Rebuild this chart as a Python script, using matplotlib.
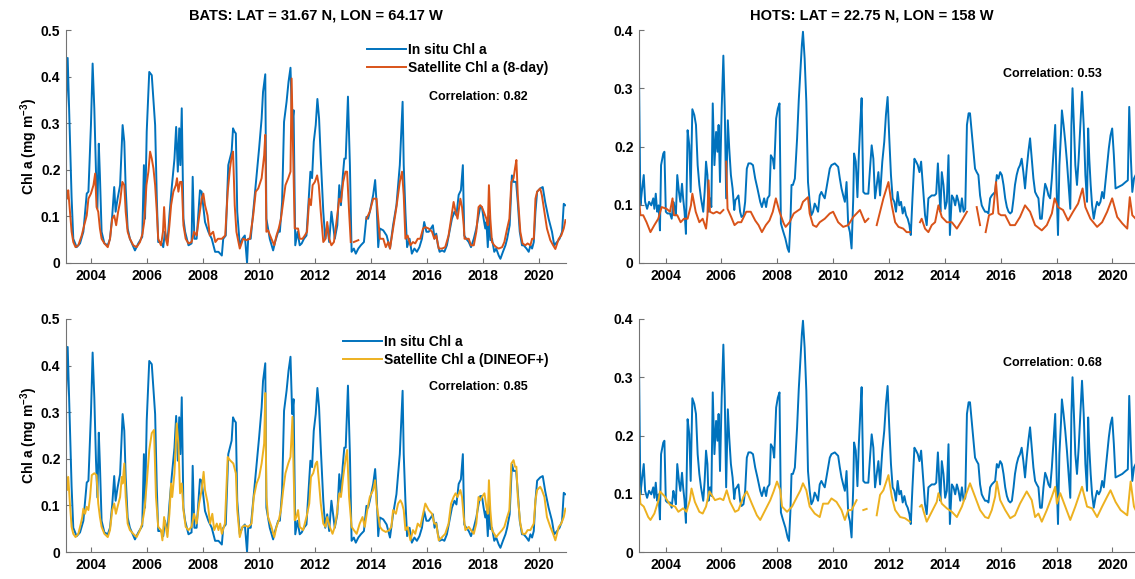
import numpy as np
import matplotlib
matplotlib.use('Agg')
import matplotlib.pyplot as plt
from matplotlib.ticker import FuncFormatter

plt.rcParams['font.family'] = ['Liberation Sans', 'DejaVu Sans']
plt.rcParams['font.weight'] = 'bold'
plt.rcParams['mathtext.fontset'] = 'custom'
plt.rcParams['mathtext.rm'] = 'Liberation Sans:bold'
plt.rcParams['mathtext.it'] = 'Liberation Sans:bold'
plt.rcParams['mathtext.bf'] = 'Liberation Sans:bold'

# (decimal year, Chl a in mg m-3); None marks a gap in the record
bats_insitu = [
    (2003.12, 0.33), (2003.18, 0.44), (2003.26, 0.27), (2003.32, 0.14), (2003.38, 0.052), (2003.50, 0.034),
    (2003.62, 0.042), (2003.74, 0.067), (2003.86, 0.149), (2003.92, 0.153), (2004.01, 0.296), (2004.07, 0.428),
    (2004.13, 0.332), (2004.19, 0.196), (2004.24, 0.117), (2004.29, 0.256), (2004.33, 0.188), (2004.39, 0.067),
    (2004.49, 0.042), (2004.61, 0.038), (2004.69, 0.052), (2004.77, 0.102), (2004.84, 0.163), (2004.89, 0.11),
    (2004.96, 0.138), (2005.05, 0.167), (2005.14, 0.296), (2005.20, 0.26), (2005.25, 0.16), (2005.32, 0.074),
    (2005.40, 0.052), (2005.58, 0.027), (2005.70, 0.042), (2005.84, 0.056), (2005.90, 0.21), (2005.94, 0.095),
    (2006.00, 0.282), (2006.09, 0.41), (2006.18, 0.403), (2006.30, 0.296), (2006.36, 0.138), (2006.41, 0.045),
    (2006.51, 0.045), (2006.59, 0.034), (2006.65, 0.067), (2006.74, 0.045), (2006.81, 0.102), (2006.89, 0.16),
    (2006.99, 0.224), (2007.05, 0.292), (2007.11, 0.196), (2007.16, 0.289), (2007.20, 0.21), (2007.25, 0.332),
    (2007.31, 0.095), (2007.37, 0.067), (2007.49, 0.038), (2007.60, 0.042), (2007.64, 0.185), (2007.70, 0.052),
    (2007.78, 0.052), (2007.90, 0.156), (2007.96, 0.153), (2008.08, 0.088), (2008.20, 0.067), (2008.32, 0.052),
    (2008.44, 0.024), (2008.56, 0.024), (2008.68, 0.016), (2008.73, 0.052), (2008.82, 0.059), (2008.91, 0.21),
    (2009.03, 0.239), (2009.08, 0.289), (2009.13, 0.282), (2009.18, 0.278), (2009.23, 0.11), (2009.32, 0.038),
    (2009.41, 0.052), (2009.50, 0.059), (2009.58, 0.0), (2009.62, 0.052), (2009.71, 0.052), (2009.82, 0.124),
    (2009.92, 0.188), (2010.01, 0.246), (2010.10, 0.31), (2010.15, 0.367), (2010.23, 0.405), (2010.27, 0.095),
    (2010.39, 0.052), (2010.51, 0.027), (2010.58, 0.045), (2010.69, 0.067), (2010.75, 0.067), (2010.83, 0.13),
    (2010.90, 0.303), (2010.99, 0.346), (2011.06, 0.389), (2011.13, 0.419), (2011.19, 0.296), (2011.24, 0.328),
    (2011.30, 0.038), (2011.38, 0.067), (2011.46, 0.038), (2011.53, 0.042), (2011.61, 0.052), (2011.70, 0.059),
    (2011.78, 0.138), (2011.84, 0.196), (2011.90, 0.182), (2011.96, 0.26), (2012.03, 0.296), (2012.09, 0.352),
    (2012.15, 0.31), (2012.21, 0.224), (2012.30, 0.11), (2012.37, 0.052), (2012.44, 0.081), (2012.51, 0.045),
    (2012.59, 0.11), (2012.65, 0.081), (2012.71, 0.052), (2012.80, 0.081), (2012.87, 0.167), (2012.93, 0.124),
    (2012.99, 0.182), (2013.05, 0.224), (2013.10, 0.224), (2013.18, 0.357), (2013.25, 0.21), (2013.31, 0.024),
    (2013.39, 0.031), (2013.46, 0.02), (2013.55, 0.031), (2013.64, 0.038), (2013.75, 0.045), (2013.84, 0.099),
    (2013.90, 0.095), (2013.96, 0.11), (2014.08, 0.146), (2014.15, 0.178), (2014.20, 0.13), (2014.26, 0.034),
    (2014.32, 0.074), (2014.44, 0.07), (2014.56, 0.059), (2014.68, 0.031), (2014.79, 0.081), (2014.91, 0.124),
    (2015.03, 0.21), (2015.13, 0.346), (2015.17, 0.21), (2015.23, 0.11), (2015.29, 0.034), (2015.38, 0.052),
    (2015.46, 0.02), (2015.55, 0.031), (2015.64, 0.024), (2015.73, 0.034), (2015.82, 0.052), (2015.90, 0.088),
    (2015.98, 0.067), (2016.06, 0.067), (2016.14, 0.074), (2016.21, 0.081), (2016.27, 0.052), (2016.33, 0.063),
    (2016.39, 0.038), (2016.45, 0.024), (2016.54, 0.027), (2016.62, 0.024), (2016.71, 0.038), (2016.80, 0.067),
    (2016.89, 0.095), (2016.98, 0.11), (2017.05, 0.102), (2017.13, 0.146), (2017.21, 0.156), (2017.28, 0.21),
    (2017.33, 0.059), (2017.40, 0.052), (2017.49, 0.045), (2017.57, 0.034), (2017.67, 0.052), (2017.76, 0.074),
    (2017.84, 0.102), (2017.90, 0.12), (2017.96, 0.12), (2018.02, 0.095), (2018.08, 0.074), (2018.12, 0.088),
    (2018.17, 0.034), (2018.21, 0.102), (2018.26, 0.049), (2018.32, 0.052), (2018.40, 0.024), (2018.47, 0.031),
    (2018.56, 0.016), (2018.62, 0.009), (2018.71, 0.024), (2018.80, 0.038), (2018.86, 0.052), (2018.95, 0.081),
    (2019.03, 0.188), (2019.09, 0.174), (2019.18, 0.174), (2019.24, 0.13), (2019.31, 0.067), (2019.39, 0.038),
    (2019.45, 0.038), (2019.55, 0.031), (2019.63, 0.024), (2019.69, 0.038), (2019.75, 0.031), (2019.81, 0.045),
    (2019.87, 0.11), (2019.93, 0.153), (2020.04, 0.16), (2020.13, 0.163), (2020.22, 0.13), (2020.34, 0.095),
    (2020.46, 0.067), (2020.54, 0.038), (2020.64, 0.045), (2020.73, 0.052), (2020.82, 0.067), (2020.88, 0.127),
    (2020.93, 0.124),
]

bats_sat8 = [
    (2003.12, 0.16), (2003.16, 0.138), (2003.20, 0.156), (2003.26, 0.11), (2003.32, 0.067), (2003.38, 0.045),
    (2003.46, 0.034), (2003.56, 0.038), (2003.68, 0.059), (2003.77, 0.081), (2003.86, 0.102), (2003.92, 0.138),
    (2004.01, 0.149), (2004.10, 0.167), (2004.16, 0.192), (2004.21, 0.12), (2004.27, 0.11), (2004.33, 0.074),
    (2004.39, 0.052), (2004.49, 0.042), (2004.61, 0.034), (2004.69, 0.052), (2004.77, 0.095), (2004.84, 0.102),
    (2004.91, 0.081), (2004.98, 0.11), (2005.05, 0.131), (2005.13, 0.174), (2005.20, 0.167), (2005.25, 0.11),
    (2005.32, 0.067), (2005.40, 0.052), (2005.52, 0.038), (2005.64, 0.034), (2005.76, 0.045), (2005.85, 0.063),
    (2005.91, 0.088), (2005.99, 0.167), (2006.06, 0.196), (2006.12, 0.239), (2006.18, 0.224), (2006.24, 0.203),
    (2006.30, 0.167), (2006.36, 0.11), (2006.41, 0.052), (2006.51, 0.038), (2006.58, 0.067), (2006.62, 0.12),
    (2006.68, 0.052), (2006.74, 0.038), (2006.81, 0.081), (2006.87, 0.124), (2006.95, 0.153), (2007.04, 0.167),
    (2007.08, 0.182), (2007.13, 0.153), (2007.19, 0.174), (2007.25, 0.174), (2007.31, 0.081), (2007.39, 0.052),
    (2007.49, 0.042), (2007.60, 0.045), (2007.69, 0.067), (2007.78, 0.059), (2007.86, 0.095), (2007.96, 0.138),
    (2008.02, 0.149), (2008.08, 0.124), (2008.17, 0.102), (2008.25, 0.059), (2008.37, 0.067), (2008.45, 0.045),
    (2008.54, 0.052), (2008.68, 0.052), (2008.80, 0.059), (2008.89, 0.153), (2008.97, 0.203), (2009.02, 0.224),
    (2009.08, 0.239), (2009.14, 0.124), (2009.20, 0.067), (2009.32, 0.031), (2009.44, 0.052), (2009.56, 0.049),
    (2009.68, 0.052), (2009.80, 0.102), (2009.89, 0.153), (2009.98, 0.16), (2010.10, 0.182), (2010.19, 0.231),
    (2010.23, 0.275), (2010.27, 0.067), (2010.33, 0.07), (2010.45, 0.052), (2010.55, 0.038), (2010.63, 0.059),
    (2010.71, 0.074), (2010.79, 0.095), (2010.87, 0.131), (2010.95, 0.167), (2011.05, 0.182), (2011.13, 0.196),
    (2011.17, 0.396), (2011.23, 0.224), (2011.28, 0.074), (2011.40, 0.074), (2011.46, 0.052), (2011.56, 0.052),
    (2011.64, 0.059), (2011.72, 0.067), (2011.80, 0.138), (2011.86, 0.124), (2011.92, 0.167), (2012.00, 0.174),
    (2012.08, 0.188), (2012.14, 0.167), (2012.21, 0.11), (2012.30, 0.045), (2012.38, 0.052), (2012.44, 0.088),
    (2012.51, 0.052), (2012.59, 0.038), (2012.68, 0.045), (2012.77, 0.088), (2012.87, 0.138), (2012.93, 0.131),
    (2013.01, 0.174), (2013.09, 0.196), (2013.15, 0.196), (2013.22, 0.11), (2013.28, 0.045), (2013.33, None),
    (2013.39, 0.045), (2013.55, 0.049), (2013.70, None), (2013.84, 0.095), (2013.96, 0.11), (2014.08, 0.138),
    (2014.20, 0.138), (2014.32, 0.052), (2014.44, 0.052), (2014.53, 0.034), (2014.62, 0.045), (2014.68, 0.031),
    (2014.79, 0.074), (2014.91, 0.12), (2015.03, 0.174), (2015.11, 0.196), (2015.17, 0.145), (2015.23, 0.052),
    (2015.31, 0.059), (2015.41, 0.038), (2015.50, 0.045), (2015.58, 0.042), (2015.67, 0.052), (2015.76, 0.052),
    (2015.86, 0.074), (2015.94, 0.077), (2016.06, 0.074), (2016.18, 0.067), (2016.26, 0.052), (2016.33, 0.059),
    (2016.42, 0.031), (2016.54, 0.031), (2016.65, 0.034), (2016.77, 0.059), (2016.86, 0.095), (2016.95, 0.131),
    (2017.02, 0.11), (2017.09, 0.095), (2017.19, 0.138), (2017.25, 0.12), (2017.31, 0.081), (2017.34, 0.052),
    (2017.49, 0.052), (2017.57, 0.038), (2017.67, 0.038), (2017.76, 0.067), (2017.84, 0.12), (2017.90, 0.124),
    (2017.96, 0.12), (2018.05, 0.106), (2018.12, 0.095), (2018.17, 0.081), (2018.21, 0.167), (2018.26, 0.095),
    (2018.32, 0.045), (2018.40, 0.038), (2018.47, 0.034), (2018.56, 0.031), (2018.68, 0.034), (2018.76, 0.045),
    (2018.86, 0.074), (2018.94, 0.095), (2019.01, 0.174), (2019.09, 0.182), (2019.14, 0.203), (2019.19, 0.221),
    (2019.24, 0.145), (2019.33, 0.067), (2019.41, 0.042), (2019.51, 0.038), (2019.59, 0.042), (2019.69, 0.038),
    (2019.75, 0.052), (2019.81, 0.052), (2019.87, 0.138), (2019.93, 0.153), (2020.04, 0.16), (2020.10, 0.145),
    (2020.19, 0.11), (2020.28, 0.074), (2020.40, 0.049), (2020.50, 0.038), (2020.58, 0.03), (2020.70, 0.052),
    (2020.79, 0.059), (2020.88, 0.074), (2020.94, 0.092),
]

bats_dineof = [
    (2003.12, 0.169), (2003.16, 0.133), (2003.20, 0.161), (2003.26, 0.104), (2003.32, 0.054), (2003.38, 0.039),
    (2003.46, 0.032), (2003.56, 0.039), (2003.65, 0.061), (2003.70, 0.075), (2003.74, 0.093), (2003.80, 0.082),
    (2003.86, 0.097), (2003.92, 0.09), (2003.98, 0.118), (2004.04, 0.165), (2004.13, 0.169), (2004.21, 0.165),
    (2004.27, 0.104), (2004.33, 0.075), (2004.39, 0.054), (2004.49, 0.039), (2004.61, 0.032), (2004.69, 0.047),
    (2004.77, 0.09), (2004.84, 0.104), (2004.90, 0.082), (2004.96, 0.097), (2005.05, 0.118), (2005.11, 0.161),
    (2005.14, 0.147), (2005.20, 0.19), (2005.25, 0.118), (2005.32, 0.061), (2005.40, 0.047), (2005.52, 0.039),
    (2005.64, 0.032), (2005.76, 0.047), (2005.84, 0.061), (2005.92, 0.09), (2006.00, 0.147), (2006.09, 0.219),
    (2006.18, 0.255), (2006.26, 0.262), (2006.33, 0.118), (2006.41, 0.054), (2006.51, 0.047), (2006.56, 0.025),
    (2006.62, 0.075), (2006.68, 0.054), (2006.74, 0.032), (2006.81, 0.082), (2006.87, 0.147), (2006.91, 0.118),
    (2006.99, 0.169), (2007.07, 0.276), (2007.13, 0.233), (2007.19, 0.126), (2007.25, 0.147), (2007.31, 0.09),
    (2007.39, 0.054), (2007.49, 0.047), (2007.60, 0.054), (2007.69, 0.082), (2007.78, 0.061), (2007.87, 0.104),
    (2007.96, 0.133), (2008.03, 0.172), (2008.08, 0.133), (2008.18, 0.104), (2008.26, 0.061), (2008.34, 0.082),
    (2008.41, 0.047), (2008.50, 0.061), (2008.56, 0.047), (2008.62, 0.061), (2008.68, 0.039), (2008.79, 0.061),
    (2008.89, 0.204), (2008.97, 0.197), (2009.09, 0.19), (2009.18, 0.169), (2009.23, 0.09), (2009.32, 0.032),
    (2009.41, 0.054), (2009.50, 0.057), (2009.62, 0.054), (2009.74, 0.061), (2009.82, 0.118), (2009.92, 0.147),
    (2010.01, 0.161), (2010.10, 0.19), (2010.19, 0.233), (2010.23, 0.341), (2010.27, 0.118), (2010.33, 0.075),
    (2010.45, 0.054), (2010.55, 0.032), (2010.63, 0.054), (2010.71, 0.068), (2010.79, 0.09), (2010.87, 0.133),
    (2010.95, 0.169), (2011.05, 0.19), (2011.13, 0.204), (2011.20, 0.29), (2011.28, 0.068), (2011.34, 0.075),
    (2011.40, 0.09), (2011.46, 0.054), (2011.58, 0.047), (2011.70, 0.075), (2011.80, 0.104), (2011.86, 0.161),
    (2011.94, 0.169), (2012.03, 0.19), (2012.08, 0.194), (2012.15, 0.147), (2012.21, 0.104), (2012.30, 0.061),
    (2012.38, 0.054), (2012.44, 0.075), (2012.53, 0.054), (2012.63, 0.039), (2012.71, 0.054), (2012.77, 0.075),
    (2012.87, 0.126), (2012.93, 0.118), (2013.01, 0.161), (2013.09, 0.197), (2013.15, 0.219), (2013.22, 0.118),
    (2013.31, 0.054), (2013.39, 0.047), (2013.49, 0.039), (2013.60, 0.061), (2013.70, 0.075), (2013.78, 0.054),
    (2013.87, 0.09), (2013.96, 0.118), (2014.08, 0.133), (2014.15, 0.154), (2014.20, 0.104), (2014.32, 0.054),
    (2014.41, 0.047), (2014.53, 0.043), (2014.65, 0.047), (2014.73, 0.054), (2014.79, 0.09), (2014.89, 0.082),
    (2014.97, 0.104), (2015.05, 0.111), (2015.11, 0.104), (2015.17, 0.09), (2015.23, 0.047), (2015.31, 0.054),
    (2015.41, 0.025), (2015.50, 0.047), (2015.58, 0.039), (2015.67, 0.061), (2015.76, 0.054), (2015.86, 0.082),
    (2015.94, 0.104), (2016.06, 0.09), (2016.18, 0.082), (2016.26, 0.061), (2016.33, 0.061), (2016.42, 0.025),
    (2016.54, 0.032), (2016.65, 0.039), (2016.77, 0.061), (2016.86, 0.104), (2016.95, 0.118), (2017.02, 0.126),
    (2017.09, 0.118), (2017.19, 0.133), (2017.25, 0.118), (2017.31, 0.075), (2017.37, 0.047), (2017.49, 0.054),
    (2017.57, 0.047), (2017.67, 0.039), (2017.76, 0.061), (2017.84, 0.118), (2017.90, 0.111), (2017.96, 0.118),
    (2018.05, 0.126), (2018.12, 0.097), (2018.17, 0.082), (2018.21, 0.154), (2018.26, 0.09), (2018.32, 0.047),
    (2018.40, 0.039), (2018.47, 0.032), (2018.56, 0.039), (2018.68, 0.047), (2018.76, 0.054), (2018.86, 0.075),
    (2018.94, 0.09), (2019.01, 0.19), (2019.09, 0.197), (2019.14, 0.183), (2019.19, 0.183), (2019.24, 0.118),
    (2019.33, 0.061), (2019.41, 0.039), (2019.51, 0.039), (2019.59, 0.047), (2019.69, 0.047), (2019.75, 0.054),
    (2019.81, 0.061), (2019.87, 0.111), (2019.93, 0.133), (2020.04, 0.14), (2020.10, 0.133), (2020.19, 0.118),
    (2020.28, 0.075), (2020.40, 0.054), (2020.50, 0.039), (2020.58, 0.025), (2020.70, 0.054), (2020.79, 0.061),
    (2020.88, 0.075), (2020.94, 0.093),
]

hots_insitu = [
    (2003.05, 0.323), (2003.10, 0.099), (2003.15, 0.122), (2003.22, 0.151), (2003.27, 0.105), (2003.34, 0.093),
    (2003.41, 0.105), (2003.49, 0.099), (2003.56, 0.111), (2003.60, 0.093), (2003.65, 0.119), (2003.70, 0.088),
    (2003.75, 0.099), (2003.80, 0.056), (2003.84, 0.168), (2003.92, 0.188), (2003.96, 0.191), (2004.01, 0.088),
    (2004.07, 0.085), (2004.16, 0.085), (2004.22, 0.076), (2004.28, 0.105), (2004.32, 0.096), (2004.37, 0.082),
    (2004.42, 0.151), (2004.48, 0.122), (2004.53, 0.105), (2004.59, 0.136), (2004.63, 0.111), (2004.68, 0.088),
    (2004.73, 0.05), (2004.79, 0.228), (2004.85, 0.202), (2004.90, 0.122), (2004.96, 0.264), (2005.03, 0.254),
    (2005.09, 0.237), (2005.15, 0.168), (2005.21, 0.134), (2005.27, 0.111), (2005.35, 0.088), (2005.40, 0.122),
    (2005.45, 0.174), (2005.50, 0.151), (2005.54, 0.088), (2005.59, 0.111), (2005.64, 0.096), (2005.69, 0.274),
    (2005.75, 0.168), (2005.81, 0.225), (2005.86, 0.191), (2005.90, 0.237), (2005.95, 0.139), (2006.01, 0.265),
    (2006.07, 0.356), (2006.12, 0.265), (2006.17, 0.111), (2006.23, 0.245), (2006.28, 0.197), (2006.34, 0.151),
    (2006.40, 0.128), (2006.46, 0.091), (2006.50, 0.108), (2006.55, 0.111), (2006.61, 0.116), (2006.67, 0.088),
    (2006.72, 0.079), (2006.79, 0.082), (2006.85, 0.105), (2006.91, 0.162), (2006.97, 0.171), (2007.05, 0.171),
    (2007.13, 0.168), (2007.21, 0.145), (2007.29, 0.128), (2007.39, 0.105), (2007.45, 0.096), (2007.53, 0.111),
    (2007.60, 0.096), (2007.65, 0.111), (2007.72, 0.116), (2007.77, 0.185), (2007.84, 0.179), (2007.89, 0.162),
    (2007.96, 0.248), (2008.02, 0.265), (2008.08, 0.274), (2008.13, 0.068), (2008.20, 0.056), (2008.29, 0.042),
    (2008.37, 0.025), (2008.42, 0.019), (2008.47, 0.07), (2008.51, 0.134), (2008.56, 0.134), (2008.63, 0.145),
    (2008.71, 0.214), (2008.77, 0.28), (2008.83, 0.33), (2008.88, 0.374), (2008.92, 0.397), (2008.98, 0.351),
    (2009.04, 0.277), (2009.10, 0.139), (2009.16, 0.105), (2009.22, 0.082), (2009.28, 0.088), (2009.34, 0.102),
    (2009.40, 0.096), (2009.46, 0.088), (2009.52, 0.116), (2009.58, 0.122), (2009.64, 0.116), (2009.70, 0.111),
    (2009.76, 0.128), (2009.82, 0.145), (2009.88, 0.162), (2009.94, 0.168), (2010.06, 0.171), (2010.18, 0.165),
    (2010.24, 0.145), (2010.30, 0.128), (2010.36, 0.116), (2010.42, 0.105), (2010.48, 0.139), (2010.54, 0.065),
    (2010.60, 0.053), (2010.66, 0.025), (2010.72, 0.111), (2010.75, 0.188), (2010.81, 0.174), (2010.87, 0.113),
    (2010.92, 0.185), (2010.97, 0.237), (2011.02, 0.283), (2011.08, 0.122), (2011.14, 0.119), (2011.20, 0.119),
    (2011.26, 0.119), (2011.32, 0.162), (2011.38, 0.202), (2011.44, 0.179), (2011.50, 0.111), (2011.56, 0.134),
    (2011.62, 0.156), (2011.68, 0.116), (2011.76, 0.174), (2011.83, 0.208), (2011.89, 0.254), (2011.95, 0.285),
    (2012.01, 0.214), (2012.07, 0.151), (2012.13, 0.111), (2012.19, 0.105), (2012.25, 0.088), (2012.31, 0.122),
    (2012.37, 0.099), (2012.43, 0.105), (2012.49, 0.085), (2012.55, 0.096), (2012.61, 0.082), (2012.67, 0.076),
    (2012.73, 0.065), (2012.78, 0.048), (2012.84, 0.111), (2012.91, 0.179), (2012.97, 0.174), (2013.03, 0.168),
    (2013.09, 0.156), (2013.15, 0.174), (2013.21, 0.134), (2013.29, 0.082), (2013.35, 0.065), (2013.41, 0.111),
    (2013.53, 0.116), (2013.63, 0.116), (2013.69, 0.119), (2013.75, 0.171), (2013.80, 0.122), (2013.84, 0.088),
    (2013.89, 0.156), (2013.95, 0.134), (2014.01, 0.093), (2014.07, 0.105), (2014.13, 0.185), (2014.18, 0.048),
    (2014.25, 0.116), (2014.31, 0.111), (2014.37, 0.099), (2014.43, 0.116), (2014.49, 0.105), (2014.55, 0.088),
    (2014.61, 0.111), (2014.67, 0.088), (2014.73, 0.093), (2014.79, 0.237), (2014.85, 0.257), (2014.90, 0.257),
    (2014.96, 0.225), (2015.02, 0.191), (2015.08, 0.162), (2015.14, 0.156), (2015.20, 0.151), (2015.26, 0.116),
    (2015.32, 0.099), (2015.38, 0.093), (2015.44, 0.088), (2015.50, 0.088), (2015.56, 0.085), (2015.62, 0.111),
    (2015.68, 0.116), (2015.74, 0.119), (2015.80, 0.122), (2015.86, 0.151), (2015.92, 0.145), (2015.98, 0.156),
    (2016.04, 0.151), (2016.10, 0.134), (2016.16, 0.111), (2016.22, 0.096), (2016.28, 0.088), (2016.34, 0.085),
    (2016.40, 0.088), (2016.46, 0.111), (2016.51, 0.134), (2016.57, 0.151), (2016.63, 0.162), (2016.69, 0.168),
    (2016.75, 0.179), (2016.81, 0.156), (2016.87, 0.128), (2016.93, 0.162), (2016.99, 0.191), (2017.05, 0.214),
    (2017.11, 0.179), (2017.17, 0.145), (2017.23, 0.122), (2017.29, 0.116), (2017.35, 0.111), (2017.41, 0.076),
    (2017.47, 0.076), (2017.53, 0.111), (2017.59, 0.136), (2017.65, 0.128), (2017.71, 0.116), (2017.77, 0.111),
    (2017.83, 0.145), (2017.89, 0.191), (2017.95, 0.237), (2018.01, 0.111), (2018.05, 0.048), (2018.10, 0.168),
    (2018.16, 0.225), (2018.19, 0.262), (2018.25, 0.237), (2018.31, 0.208), (2018.37, 0.174), (2018.43, 0.134),
    (2018.49, 0.093), (2018.53, 0.237), (2018.57, 0.30), (2018.62, 0.237), (2018.67, 0.168), (2018.73, 0.134),
    (2018.79, 0.179), (2018.85, 0.237), (2018.91, 0.294), (2018.97, 0.237), (2019.03, 0.151), (2019.09, 0.105),
    (2019.13, 0.231), (2019.17, 0.179), (2019.22, 0.134), (2019.27, 0.099), (2019.33, 0.076), (2019.39, 0.093),
    (2019.45, 0.105), (2019.51, 0.099), (2019.57, 0.105), (2019.63, 0.122), (2019.69, 0.111), (2019.75, 0.139),
    (2019.81, 0.168), (2019.87, 0.197), (2019.93, 0.219), (2019.99, 0.231), (2020.05, 0.185), (2020.11, 0.128),
    (2020.23, 0.131), (2020.35, 0.134), (2020.47, 0.139), (2020.55, 0.142), (2020.60, 0.268), (2020.66, 0.179),
    (2020.71, 0.122), (2020.77, 0.145), (2020.83, 0.151),
]

hots_sat8 = [
    (2003.05, 0.111), (2003.10, 0.082), (2003.20, 0.082), (2003.32, 0.07), (2003.46, 0.053), (2003.60, 0.065),
    (2003.74, 0.076), (2003.86, 0.096), (2004.04, 0.093), (2004.16, 0.088), (2004.25, 0.111), (2004.30, 0.082),
    (2004.42, 0.082), (2004.54, 0.07), (2004.66, 0.076), (2004.79, 0.076), (2004.91, 0.099), (2004.96, 0.119),
    (2005.08, 0.088), (2005.21, 0.07), (2005.33, 0.076), (2005.45, 0.059), (2005.50, 0.082), (2005.54, 0.142),
    (2005.59, 0.088), (2005.71, 0.085), (2005.83, 0.088), (2005.95, 0.085), (2006.07, 0.091), (2006.12, None),
    (2006.17, 0.174), (2006.22, 0.093), (2006.35, 0.079), (2006.47, 0.065), (2006.59, 0.07), (2006.71, 0.07),
    (2006.89, 0.088), (2007.05, 0.088), (2007.21, 0.073), (2007.33, 0.065), (2007.45, 0.053), (2007.59, 0.065),
    (2007.72, 0.073), (2007.84, 0.088), (2007.95, 0.111), (2008.08, 0.088), (2008.23, 0.068), (2008.30, 0.062),
    (2008.44, 0.07), (2008.59, 0.085), (2008.83, 0.093), (2008.92, 0.105), (2009.10, 0.113), (2009.16, 0.085),
    (2009.28, 0.065), (2009.40, 0.062), (2009.52, 0.07), (2009.70, 0.076), (2009.88, 0.085), (2010.00, 0.088),
    (2010.18, 0.07), (2010.36, 0.062), (2010.54, 0.065), (2010.72, 0.079), (2010.96, 0.091), (2011.14, 0.07),
    (2011.26, 0.076), (2011.40, None), (2011.56, 0.065), (2011.68, 0.088), (2011.80, 0.111), (2011.98, 0.139),
    (2012.10, 0.099), (2012.22, 0.07), (2012.34, 0.062), (2012.51, 0.059), (2012.63, 0.053), (2012.75, 0.053),
    (2012.95, None), (2013.11, 0.07), (2013.17, 0.076), (2013.29, 0.059), (2013.41, 0.053), (2013.53, 0.065),
    (2013.65, 0.07), (2013.77, 0.099), (2013.89, 0.079), (2014.07, 0.07), (2014.25, 0.07), (2014.43, 0.059),
    (2014.61, 0.073), (2014.79, 0.088), (2014.95, None), (2015.14, 0.096), (2015.26, 0.065), (2015.36, None),
    (2015.46, 0.053), (2015.58, 0.082), (2015.72, 0.085), (2015.83, 0.139), (2015.92, 0.085), (2016.01, 0.082),
    (2016.16, 0.082), (2016.34, 0.065), (2016.51, 0.065), (2016.69, 0.079), (2016.87, 0.099), (2017.05, 0.088),
    (2017.23, 0.065), (2017.47, 0.056), (2017.65, 0.065), (2017.83, 0.085), (2017.93, 0.111), (2018.05, 0.096),
    (2018.23, 0.091), (2018.41, 0.073), (2018.59, 0.088), (2018.77, 0.102), (2018.93, 0.128), (2019.03, 0.096),
    (2019.21, 0.076), (2019.45, 0.062), (2019.63, 0.07), (2019.81, 0.088), (2019.99, 0.111), (2020.17, 0.079),
    (2020.35, 0.068), (2020.53, 0.059), (2020.62, 0.113), (2020.71, 0.082), (2020.83, 0.076),
]

hots_dineof = [
    (2003.05, 0.118), (2003.10, 0.083), (2003.22, 0.078), (2003.38, 0.06), (2003.46, 0.055), (2003.60, 0.066),
    (2003.75, 0.089), (2003.80, 0.104), (2003.98, 0.095), (2004.16, 0.081), (2004.34, 0.078), (2004.46, 0.069),
    (2004.63, 0.075), (2004.75, 0.069), (2004.87, 0.089), (2004.93, 0.109), (2005.05, 0.086), (2005.21, 0.069),
    (2005.33, 0.066), (2005.45, 0.078), (2005.57, 0.104), (2005.77, 0.089), (2005.95, 0.092), (2006.07, 0.089),
    (2006.19, 0.106), (2006.31, 0.086), (2006.49, 0.069), (2006.61, 0.072), (2006.79, 0.095), (2006.91, 0.104),
    (2007.09, 0.083), (2007.27, 0.063), (2007.39, 0.055), (2007.57, 0.072), (2007.75, 0.089), (2007.87, 0.104),
    (2007.99, 0.121), (2008.11, 0.106), (2008.17, 0.078), (2008.35, 0.069), (2008.53, 0.078), (2008.71, 0.095),
    (2008.83, 0.106), (2008.92, 0.118), (2009.04, 0.106), (2009.16, 0.078), (2009.34, 0.066), (2009.52, 0.06),
    (2009.64, 0.083), (2009.82, 0.083), (2009.94, 0.092), (2010.12, 0.086), (2010.30, 0.072), (2010.42, 0.055),
    (2010.54, 0.072), (2010.66, 0.072), (2010.84, 0.089), (2010.96, None), (2011.08, 0.072), (2011.20, 0.074),
    (2011.38, None), (2011.56, 0.063), (2011.68, 0.098), (2011.80, 0.106), (2011.98, 0.132), (2012.10, 0.095),
    (2012.22, 0.072), (2012.40, 0.06), (2012.57, 0.058), (2012.75, 0.052), (2012.95, None), (2013.11, 0.078),
    (2013.17, 0.081), (2013.35, 0.052), (2013.53, 0.069), (2013.71, 0.086), (2013.77, 0.101), (2013.89, 0.083),
    (2014.07, 0.075), (2014.25, 0.069), (2014.43, 0.06), (2014.61, 0.078), (2014.73, 0.095), (2014.90, 0.118),
    (2015.08, 0.095), (2015.26, 0.072), (2015.44, 0.06), (2015.56, 0.058), (2015.68, 0.072), (2015.80, 0.095),
    (2015.86, 0.121), (2015.98, 0.089), (2016.16, 0.072), (2016.34, 0.058), (2016.51, 0.063), (2016.69, 0.083),
    (2016.93, 0.104), (2017.11, 0.089), (2017.23, 0.06), (2017.35, 0.066), (2017.47, 0.052), (2017.65, 0.072),
    (2017.83, 0.095), (2017.95, 0.112), (2018.01, 0.083), (2018.13, 0.101), (2018.31, 0.078), (2018.49, 0.055),
    (2018.67, 0.078), (2018.91, 0.112), (2019.09, 0.078), (2019.27, 0.075), (2019.45, 0.06), (2019.63, 0.078),
    (2019.81, 0.095), (2019.93, 0.106), (2020.11, 0.086), (2020.29, 0.072), (2020.53, 0.063), (2020.65, 0.121),
    (2020.77, 0.078), (2020.83, 0.072),
]

titles = ['BATS: LAT = 31.67 N, LON = 64.17 W', 'HOTS: LAT = 22.75 N, LON = 158 W']
correlations = [0.82, 0.53, 0.85, 0.68]
sat_labels = ['Satellite Chl a (8-day)', 'Satellite Chl a (DINEOF+)']

BLUE = '#0072BD'
ORANGE = '#D95319'
YELLOW = '#EDB120'

W, H = 1135, 579


def series(pairs):
    t = np.array([p[0] for p in pairs], dtype=float)
    v = np.array([np.nan if p[1] is None else p[1] for p in pairs], dtype=float)
    return t, v


def px_axes(fig, left, top, width, height):
    return fig.add_axes([left / W, 1 - (top + height) / H, width / W, height / H])


def style(ax, xlim, ymax):
    ax.set_xlim(*xlim)
    ax.set_ylim(0, ymax)
    ax.set_xticks(range(2004, 2021, 2))
    ax.set_yticks(np.arange(0, ymax + 0.001, 0.1))
    ax.yaxis.set_major_formatter(FuncFormatter(lambda v, _: '0' if abs(v) < 1e-9 else f'{v:.1f}'))
    for s in ['top', 'right']:
        ax.spines[s].set_visible(False)
    for s in ['left', 'bottom']:
        ax.spines[s].set_color('0.45')
        ax.spines[s].set_linewidth(0.8)
    ax.tick_params(direction='in', length=3.5, width=0.8, color='0.45', labelsize=10, labelcolor='black', pad=4)


fig = plt.figure(figsize=(W / 100, H / 100), dpi=100)

ax_tl = px_axes(fig, 66, 30, 500, 233)
ax_bl = px_axes(fig, 66, 319, 500, 233)
ax_tr = px_axes(fig, 639, 30, 500, 233)
ax_br = px_axes(fig, 639, 319, 500, 233)

lw = 1.4
left_xlim = (2003.12, 2020.96)
right_xlim = (2003.05, 2020.95)

# BATS
for ax, sat, col, lab in [(ax_tl, bats_sat8, ORANGE, sat_labels[0]),
                          (ax_bl, bats_dineof, YELLOW, sat_labels[1])]:
    t, v = series(bats_insitu)
    ax.plot(t, v, color=BLUE, lw=lw, label='In situ Chl a')
    t, v = series(sat)
    ax.plot(t, v, color=col, lw=lw, label=lab)
    style(ax, left_xlim, 0.5)
    ax.set_ylabel(r'Chl a (mg m$^{-3}$)', fontsize=10, fontweight='bold', labelpad=1)

# HOTS
for ax, sat, col in [(ax_tr, hots_sat8, ORANGE), (ax_br, hots_dineof, YELLOW)]:
    t, v = series(hots_insitu)
    ax.plot(t, v, color=BLUE, lw=lw)
    t, v = series(sat)
    ax.plot(t, v, color=col, lw=lw)
    style(ax, right_xlim, 0.4)

leg_kw = dict(loc='upper left', frameon=False, bbox_transform=fig.transFigure, borderaxespad=0,
              borderpad=0, handlelength=2.8, handletextpad=0.15, labelspacing=0.3,
              prop={'size': 10, 'weight': 'bold'})
ax_tl.legend(bbox_to_anchor=(367 / W, 1 - 43 / H), **leg_kw)
ax_bl.legend(bbox_to_anchor=(343 / W, 1 - 335 / H), **leg_kw)

fig.text(316 / W, 1 - 15 / H, titles[0], ha='center', va='center', fontsize=10.5, fontweight='bold')
fig.text(872 / W, 1 - 15 / H, titles[1], ha='center', va='center', fontsize=10.5, fontweight='bold')

corr_pos = [(478, 97), (1052, 74), (478, 387), (1052, 363)]
for (x, y), r in zip(corr_pos, correlations):
    fig.text(x / W, 1 - y / H, f'Correlation: {r:.2f}', ha='center', va='center', fontsize=9, fontweight='bold')

fig.savefig('out.png', dpi=100, facecolor='white')
